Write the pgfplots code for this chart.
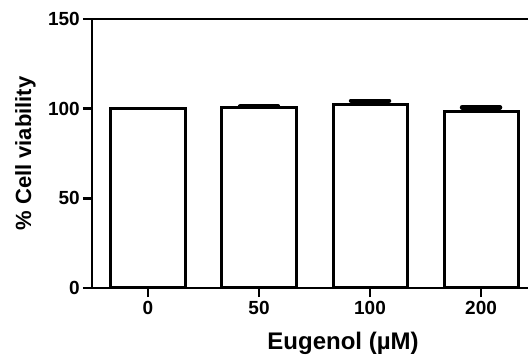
\documentclass[border=0pt]{standalone}
\usepackage{pgfplots}
\pgfplotsset{compat=1.18}
\usepackage{fontspec}
\setmainfont{Liberation Sans}
\begin{document}
\begin{tikzpicture}
\begin{axis}[
  name=ax,
  scale only axis,
  width=436pt, height=269pt,
  xmin=-0.5045, xmax=3.423,
  ymin=0, ymax=150,
  axis x line*=bottom, axis y line*=left,
  axis line style={line width=2.8pt, black},
  ytick={0,50,100,150},
  xtick={0,1,2,3}, xticklabels={0,50,100,200},
  tick align=outside,
  major tick length=9pt,
  tick style={line width=2.8pt, black},
  /pgf/number format/assume math mode=true,
  tick label style={font=\fontsize{19}{22}\selectfont\bfseries},
  yticklabel style={anchor=east, inner sep=0pt, xshift=-3pt, font=\fontsize{19}{22}\selectfont\bfseries},
  xticklabel style={anchor=north, inner sep=0pt, yshift=-4pt, font=\fontsize{19}{22}\selectfont\bfseries},
  ylabel={\% Cell viability},
  ylabel style={at={(axis description cs:-0.1284,0.5)}, anchor=south, inner sep=0pt, font=\fontsize{22}{26}\selectfont\bfseries},
  xlabel={Eugenol (µM)},
  xlabel style={at={(axis description cs:0.5757,-0.2286)}, anchor=base, inner sep=0pt, font=\fontsize{24}{28}\selectfont\bfseries},
]
\addplot[ybar, bar width=0.667, bar shift=0pt, draw=black, fill=white, line width=3pt]
  coordinates {(0,100) (1,100.4) (2,102.4) (3,98.2)};
\addplot[draw=none, mark=none,
  error bars/.cd, y dir=plus, y explicit,
  error bar style={line width=2pt, black},
  error mark=|,
  error mark options={line width=4.5pt, mark size=19pt, line cap=round, black}]
  coordinates {(1,100.4) +- (0,0.8) (2,102.4) +- (0,2.0) (3,98.2) +- (0,2.5)};
\end{axis}
\draw[line width=2pt, black] (ax.north west) -- (ax.north east);
\pgfresetboundingbox
\path[use as bounding box] ([xshift=-92pt,yshift=-68pt]ax.south west) rectangle ([yshift=19pt]ax.north east);
\end{tikzpicture}
\end{document}
